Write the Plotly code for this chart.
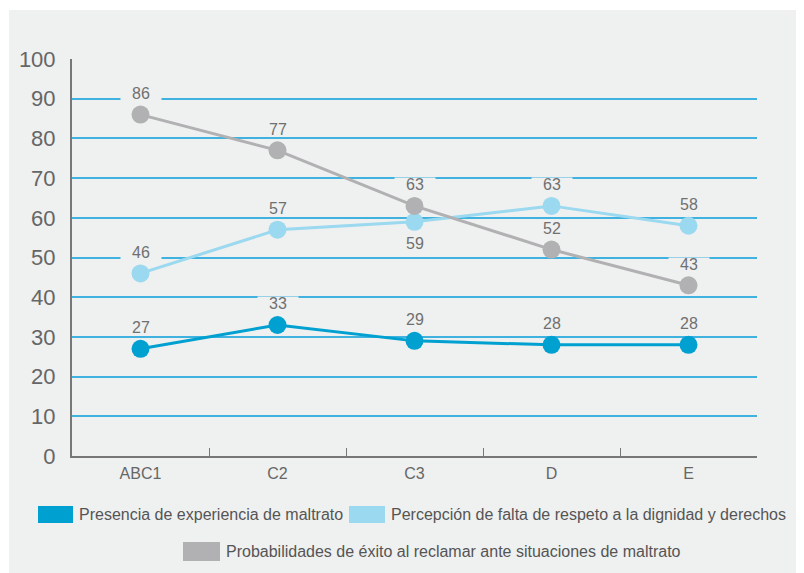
import plotly.graph_objects as go

categories = ["ABC1", "C2", "C3", "D", "E"]
series_names = [
    "Presencia de experiencia de maltrato",
    "Percepción de falta de respeto a la dignidad y derechos",
    "Probabilidades de éxito al reclamar ante situaciones de maltrato",
]
presencia = [27, 33, 29, 28, 28]
percepcion = [46, 57, 59, 63, 58]
probabilidades = [86, 77, 63, 52, 43]
y_ticks = [0, 10, 20, 30, 40, 50, 60, 70, 80, 90, 100]

colors = ["#00a0d1", "#9ad9ef", "#b1b1b3"]
# label placement: +1 above, -1 below
label_side = [
    [1, 1, 1, 1, 1],
    [1, 1, -1, 1, 1],
    [1, 1, 1, 1, 1],
]

FONT = "Liberation Sans, Arial, sans-serif"
PANEL = "#eff0f0"
OFF = 8  # page body margin
W, H = 804 - OFF, 573 - OFF
# plot area on screen: x 72..757, y 59..456
L, T = 72 - OFF, 59 - OFF
R, B = W - (757 - OFF), H - (456 - OFF)
PW, PH = W - L - R, H - T - B


def px_x(x):
    return (x - OFF - L) / PW


def px_y(y):
    return (H - B - (y - OFF)) / PH


fig = go.Figure()
all_series = [presencia, percepcion, probabilidades]
for name, vals, col in zip(series_names, all_series, colors):
    fig.add_trace(go.Scatter(
        x=categories, y=vals, name=name, mode="lines+markers",
        line=dict(color=col, width=3),
        marker=dict(color=col, size=18),
        showlegend=False, cliponaxis=False,
    ))

annotations = []
for vals, sides in zip(all_series, label_side):
    for c, v, s in zip(categories, vals, sides):
        annotations.append(dict(
            x=c, y=v, xref="x", yref="y", text=str(v), showarrow=False,
            yshift=21 * s + (-1 if s < 0 else 0), bgcolor=PANEL,
            width=40, height=13, borderpad=0,
            font=dict(family=FONT, size=16, color="#707070"),
        ))

# legend (manual, square swatches)
legend_items = [
    (38, 506, 35, 17, 77),
    (349, 506, 36, 17, 389),
    (183, 542, 37, 19, 224),
]
shapes = [dict(
    type="rect", xref="paper", yref="paper", layer="below",
    x0=px_x(9), x1=px_x(800), y0=px_y(573), y1=px_y(10),
    fillcolor=PANEL, line=dict(width=0),
)]
for (x0, y0, w, h, tx), name, col in zip(legend_items, series_names, colors):
    shapes.append(dict(
        type="rect", xref="paper", yref="paper",
        x0=px_x(x0), x1=px_x(x0 + w), y0=px_y(y0 + h), y1=px_y(y0),
        fillcolor=col, line=dict(width=0),
    ))
    annotations.append(dict(
        x=px_x(tx), y=px_y(y0 + h / 2), xref="paper", yref="paper",
        xanchor="left", yanchor="middle", text=name, showarrow=False,
        font=dict(family=FONT, size=16, color="#555555"),
    ))

fig.update_layout(
    width=W, height=H,
    margin=dict(l=L, r=R, t=T, b=B, pad=0),
    paper_bgcolor="white", plot_bgcolor=PANEL,
    showlegend=False,
    shapes=shapes, annotations=annotations,
    xaxis=dict(
        type="category", range=[-0.5, 4.5],
        showgrid=False, showline=True, linecolor="#777777", linewidth=2,
        ticks="inside", tickson="boundaries", ticklen=8, tickcolor="#777777",
        tickwidth=1, ticklabelstandoff=2,
        tickfont=dict(family=FONT, size=16, color="#666666"),
        zeroline=False,
    ),
    yaxis=dict(
        range=[0, 100], tickvals=y_ticks, showgrid=True,
        gridcolor="#40b2df", gridwidth=1.5,
        showline=True, linecolor="#777777", linewidth=2,
        ticks="", ticklabelstandoff=10,
        tickfont=dict(family=FONT, size=22, color="#666666"),
        zeroline=False,
    ),
)

fig.write_html("out.html")
